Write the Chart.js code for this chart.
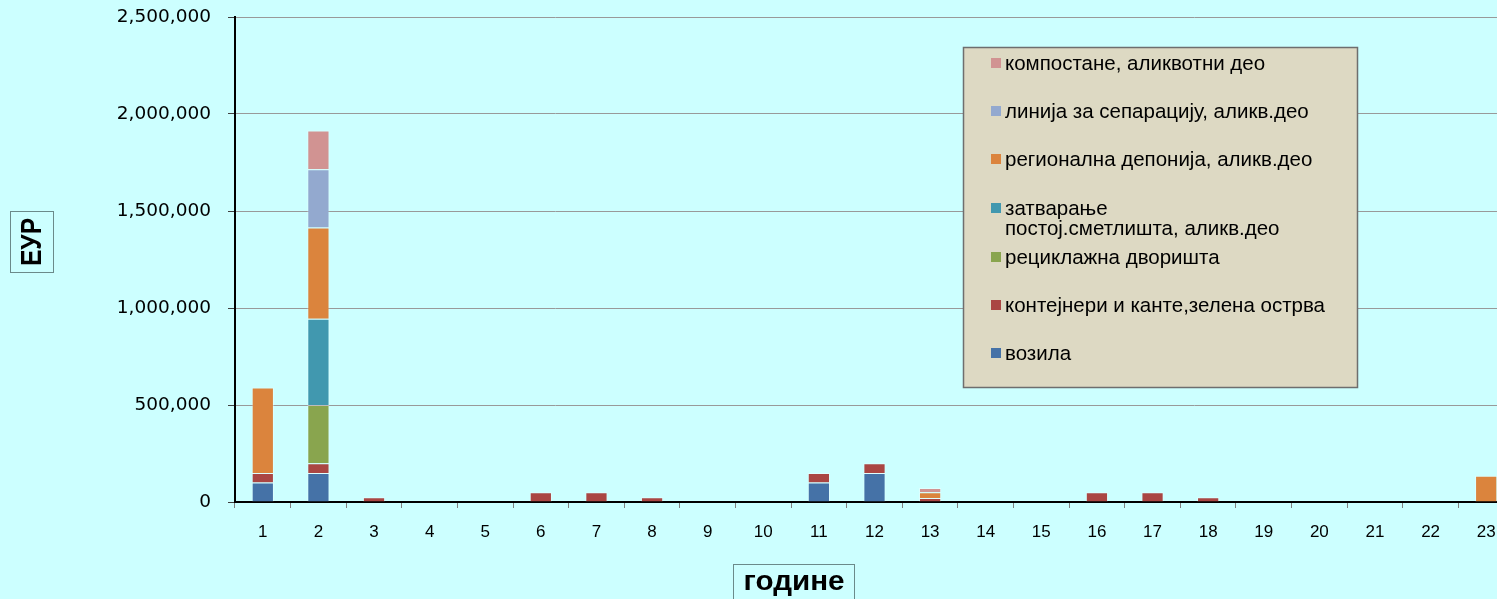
<!DOCTYPE html>
<html>
<head>
<meta charset="utf-8">
<script src="https://cdn.jsdelivr.net/npm/chart.js@4/dist/chart.umd.min.js"></script>
<style>
  html, body { margin: 0; padding: 0; background: #ccffff; overflow: hidden; }
  #wrap { position: relative; width: 1530px; height: 599px; }
</style>
</head>
<body>
<div id="wrap"><canvas id="costChart" width="1530" height="599"></canvas></div>
<script>
/* --------------- Data --------------------- */
const years = ["1","2","3","4","5","6","7","8","9","10","11","12","13","14","15","16","17","18","19","20","21","22","23"];
const vozila       = [100000,150000,0,0,0,0,0,0,0,0,100000,150000,0,0,0,0,0,0,0,0,0,0,0];
const kontejneri   = [50000,50000,25000,0,0,50000,50000,25000,0,0,50000,50000,20000,0,0,50000,50000,25000,0,0,0,0,0];
const reciklazna   = [0,300000,0,0,0,0,0,0,0,0,0,0,0,0,0,0,0,0,0,0,0,0,0];
const zatvaranje   = [0,445000,0,0,0,0,0,0,0,0,0,0,0,0,0,0,0,0,0,0,0,0,0];
const regionalna   = [440000,470000,0,0,0,0,0,0,0,0,0,0,30000,0,0,0,0,0,0,0,0,0,135000];
const separacija   = [0,300000,0,0,0,0,0,0,0,0,0,0,0,0,0,0,0,0,0,0,0,0,0];
const kompostane   = [0,200000,0,0,0,0,0,0,0,0,0,0,22000,0,0,0,0,0,0,0,0,0,0];
const yTicks = [0, 500000, 1000000, 1500000, 2000000, 2500000];

const seriesLabels = [
  "возила",
  "контејнери и канте,зелена острва",
  "рециклажна дворишта",
  ["затварање", "постој.сметлишта, аликв.део"],
  "регионална депонија, аликв.део",
  "линија за сепарацију, аликв.део",
  "компостане, аликвотни део",
];
const seriesData = [vozila, kontejneri, reciklazna, zatvaranje, regionalna, separacija, kompostane];
const seriesColors = ["#4572a7", "#aa4643", "#89a54e", "#4198af", "#db843d", "#93a9cf", "#d19392"];

/* --------------- Axis titles + legend drawn on canvas --------------------- */
const boxedTitles = {
  id: "boxedTitles",
  afterDraw(chart) {
    const ctx = chart.ctx;
    ctx.save();
    // y title box
    ctx.strokeStyle = "#6b8a8a";
    ctx.lineWidth = 1;
    ctx.strokeRect(10.5, 211.5, 43, 61);
    ctx.fillStyle = "#000";
    ctx.font = "bold 30px 'Liberation Sans', Arial, sans-serif";
    ctx.textAlign = "center";
    ctx.textBaseline = "middle";
    ctx.translate(32, 242);
    ctx.rotate(-Math.PI / 2);
    let w = ctx.measureText("ЕУР").width;
    ctx.scale(48 / w, 1);
    ctx.fillText("ЕУР", 0, 1);
    ctx.restore();

    // x title box
    ctx.save();
    ctx.strokeStyle = "#6b8a8a";
    ctx.strokeRect(733.5, 564.5, 121, 40);
    ctx.fillStyle = "#000";
    ctx.font = "bold 27px 'Liberation Sans', Arial, sans-serif";
    ctx.textAlign = "center";
    ctx.textBaseline = "alphabetic";
    ctx.translate(794, 589.5);
    w = ctx.measureText("године").width;
    ctx.scale(101 / w, 1);
    ctx.fillText("године", 0, 0);
    ctx.restore();

    // legend
    ctx.save();
    ctx.fillStyle = "#ddd9c3";
    ctx.fillRect(963, 47, 394, 340);
    ctx.strokeStyle = "#6e6e6e";
    ctx.lineWidth = 1.5;
    ctx.strokeRect(963.5, 47.5, 394, 340);
    const rowY = [63, 111, 159, 208, 257, 305, 353];
    ctx.font = "20.5px 'Liberation Sans', Arial, sans-serif";
    ctx.textAlign = "left";
    ctx.textBaseline = "middle";
    const ds = chart.data.datasets;
    for (let i = 0; i < ds.length; i++) {
      const d = ds[ds.length - 1 - i];
      const y = rowY[i];
      ctx.fillStyle = d.backgroundColor;
      ctx.fillRect(991, y - 5, 10, 10);
      ctx.fillStyle = "#000";
      const lines = Array.isArray(d.label) ? d.label : [d.label];
      lines.forEach((ln, k) => ctx.fillText(ln, 1005, y + 1.5 + k * 20));
    }
    ctx.restore();
  },
};

/* --------------- Chart --------------------- */
const costChart = new Chart(document.getElementById("costChart"), {
  type: "bar",
  plugins: [boxedTitles],
  data: {
    labels: years,
    datasets: seriesData.map((arr, i) => ({
      label: seriesLabels[i],
      data: arr,
      backgroundColor: seriesColors[i],
      borderColor: "rgba(255,255,255,0.35)",
      borderWidth: 1,
      categoryPercentage: 1,
      barPercentage: 0.4,
    })),
  },
  options: {
    responsive: false,
    animation: false,
    events: [],
    layout: { padding: { top: 17, right: 16, bottom: 0, left: 0 } },
    plugins: {
      legend: { display: false },
      tooltip: { enabled: false },
    },
    scales: {
      x: {
        stacked: true,
        grid: {
          offset: true,
          drawOnChartArea: false,
          drawTicks: true,
          tickLength: 6,
          tickColor: "#808080",
        },
        border: { color: "#000", width: 2 },
        ticks: {
          color: "#000",
          padding: 14,
          maxRotation: 0,
          autoSkip: false,
          font: { family: "'Liberation Sans', Arial, sans-serif", size: 17 },
        },
        afterFit(scale) {
          scale.height = 97;
          scale.paddingLeft = 0;
          scale.paddingRight = 0;
        },
      },
      y: {
        stacked: true,
        min: 0,
        max: 2500000,
        afterBuildTicks(scale) {
          scale.ticks = yTicks.map((v) => ({ value: v }));
        },
        grid: {
          color: (c) => (c.tick && c.tick.value === 0 ? "rgba(0,0,0,0)" : "#999999"),
          tickColor: "#404040",
          tickLength: 7,
        },
        border: { color: "#000", width: 2 },
        ticks: {
          color: "#000",
          padding: 17,
          font: { family: "'DejaVu Sans', Verdana, sans-serif", size: 18.5 },
          callback: (v) => Number(v).toLocaleString("en-US"),
        },
        afterFit(scale) {
          scale.width = 235;
          scale.paddingTop = 0;
          scale.paddingBottom = 0;
        },
      },
    },
  },
});
</script>
</body>
</html>
